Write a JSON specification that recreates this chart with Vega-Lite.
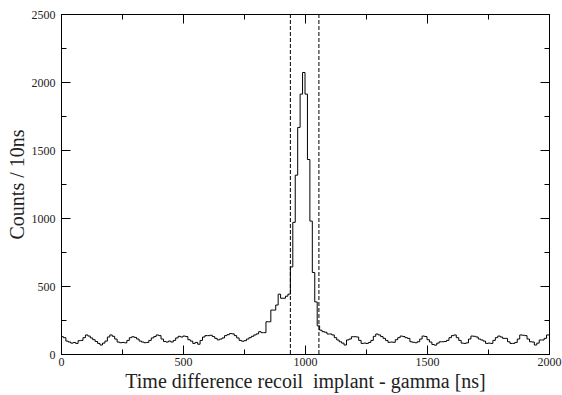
{
  "$schema": "https://vega.github.io/schema/vega-lite/v6.json",
  "autosize": "none",
  "width": 488,
  "height": 340,
  "padding": {"left": 61, "top": 14, "right": 13, "bottom": 41},
  "background": "white",
  "config": {
    "view": {"stroke": "black", "strokeWidth": 1},
    "axis": {"domainColor": "black", "tickColor": "black", "labelColor": "#222", "titleColor": "#222", "labelFont": "Liberation Serif", "titleFont": "Liberation Serif", "labelFontSize": 12, "titleFontSize": 20, "titleFontWeight": "normal", "grid": false}
  },
  "datasets": {
    "h": [
      {"t":0,"c":127},{"t":10,"c":120},{"t":20,"c":95},{"t":30,"c":88},{"t":40,"c":80},{"t":50,"c":85},{"t":60,"c":78},{"t":70,"c":98},{"t":80,"c":100},{"t":90,"c":120},
      {"t":100,"c":140},{"t":110,"c":132},{"t":120,"c":118},{"t":130,"c":105},{"t":140,"c":92},{"t":150,"c":78},{"t":160,"c":66},{"t":170,"c":80},{"t":180,"c":95},{"t":190,"c":125},
      {"t":200,"c":140},{"t":210,"c":130},{"t":220,"c":110},{"t":230,"c":88},{"t":240,"c":83},{"t":250,"c":85},{"t":260,"c":82},{"t":270,"c":100},{"t":280,"c":120},{"t":290,"c":127},
      {"t":300,"c":122},{"t":310,"c":110},{"t":320,"c":95},{"t":330,"c":88},{"t":340,"c":83},{"t":350,"c":85},{"t":360,"c":100},{"t":370,"c":118},{"t":380,"c":128},{"t":390,"c":140},
      {"t":400,"c":135},{"t":410,"c":110},{"t":420,"c":92},{"t":430,"c":88},{"t":440,"c":95},{"t":450,"c":88},{"t":460,"c":100},{"t":470,"c":118},{"t":480,"c":130},{"t":490,"c":125},
      {"t":500,"c":132},{"t":510,"c":128},{"t":520,"c":105},{"t":530,"c":95},{"t":540,"c":78},{"t":550,"c":85},{"t":560,"c":72},{"t":570,"c":100},{"t":580,"c":125},{"t":590,"c":135},
      {"t":600,"c":135},{"t":610,"c":138},{"t":620,"c":128},{"t":630,"c":115},{"t":640,"c":104},{"t":650,"c":110},{"t":660,"c":118},{"t":670,"c":135},{"t":680,"c":142},{"t":690,"c":150},
      {"t":700,"c":148},{"t":710,"c":135},{"t":720,"c":118},{"t":730,"c":100},{"t":740,"c":94},{"t":750,"c":98},{"t":760,"c":110},{"t":770,"c":120},{"t":780,"c":130},{"t":790,"c":140},
      {"t":800,"c":148},{"t":810,"c":164},{"t":820,"c":157},{"t":830,"c":157},{"t":840,"c":237},{"t":850,"c":237},{"t":860,"c":323},{"t":870,"c":323},{"t":880,"c":360},{"t":890,"c":440},
      {"t":900,"c":410},{"t":910,"c":410},{"t":920,"c":425},{"t":930,"c":440},{"t":940,"c":640},{"t":950,"c":968},{"t":960,"c":1315},{"t":970,"c":1666},{"t":980,"c":1911},{"t":990,"c":2070},
      {"t":1000,"c":1911},{"t":1010,"c":1430},{"t":1020,"c":977},{"t":1030,"c":599},{"t":1040,"c":383},{"t":1050,"c":207},{"t":1060,"c":175},{"t":1070,"c":164},{"t":1080,"c":160},{"t":1090,"c":147},
      {"t":1100,"c":147},{"t":1110,"c":140},{"t":1120,"c":120},{"t":1130,"c":103},{"t":1140,"c":90},{"t":1150,"c":80},{"t":1160,"c":66},{"t":1170,"c":103},{"t":1180,"c":110},{"t":1190,"c":127},
      {"t":1200,"c":127},{"t":1210,"c":125},{"t":1220,"c":100},{"t":1230,"c":78},{"t":1240,"c":80},{"t":1250,"c":78},{"t":1260,"c":85},{"t":1270,"c":100},{"t":1280,"c":130},{"t":1290,"c":147},
      {"t":1300,"c":140},{"t":1310,"c":128},{"t":1320,"c":115},{"t":1330,"c":100},{"t":1340,"c":86},{"t":1350,"c":88},{"t":1360,"c":86},{"t":1370,"c":105},{"t":1380,"c":120},{"t":1390,"c":132},
      {"t":1400,"c":128},{"t":1410,"c":120},{"t":1420,"c":115},{"t":1430,"c":90},{"t":1440,"c":86},{"t":1450,"c":83},{"t":1460,"c":90},{"t":1470,"c":110},{"t":1480,"c":132},{"t":1490,"c":128},
      {"t":1500,"c":105},{"t":1510,"c":88},{"t":1520,"c":70},{"t":1530,"c":65},{"t":1540,"c":80},{"t":1550,"c":90},{"t":1560,"c":90},{"t":1570,"c":92},{"t":1580,"c":100},{"t":1590,"c":120},
      {"t":1600,"c":135},{"t":1610,"c":140},{"t":1620,"c":120},{"t":1630,"c":100},{"t":1640,"c":80},{"t":1650,"c":78},{"t":1660,"c":82},{"t":1670,"c":110},{"t":1680,"c":132},{"t":1690,"c":130},
      {"t":1700,"c":125},{"t":1710,"c":110},{"t":1720,"c":103},{"t":1730,"c":95},{"t":1740,"c":78},{"t":1750,"c":80},{"t":1760,"c":78},{"t":1770,"c":100},{"t":1780,"c":120},{"t":1790,"c":132},
      {"t":1800,"c":125},{"t":1810,"c":115},{"t":1820,"c":115},{"t":1830,"c":90},{"t":1840,"c":78},{"t":1850,"c":78},{"t":1860,"c":85},{"t":1870,"c":110},{"t":1880,"c":140},{"t":1890,"c":138},
      {"t":1900,"c":135},{"t":1910,"c":110},{"t":1920,"c":90},{"t":1930,"c":88},{"t":1940,"c":66},{"t":1950,"c":80},{"t":1960,"c":103},{"t":1970,"c":103},{"t":1980,"c":115},{"t":1990,"c":140},
      {"t":2000,"c":140}
    ],
    "cut": [{"t":940},{"t":1057}]
  },
  "layer": [
    {
      "data": {"name": "h"},
      "mark": {"type": "line", "interpolate": "step-after", "color": "black", "strokeWidth": 1},
      "encoding": {
        "x": {"field": "t", "type": "quantitative", "scale": {"domain": [0, 2000], "nice": false},
          "axis": {"orient": "bottom", "title": "Time difference recoil\u00a0 implant - gamma [ns]", "values": [0,250,500,750,1000,1250,1500,1750,2000], "format": "d", "labelExpr": "datum.value % 500 === 0 ? datum.label : ''", "tickSize": {"condition": {"test": "datum.value % 500 === 0", "value": -9}, "value": -5}, "labelPadding": 11, "labelFlush": false, "titlePadding": 4}},
        "y": {"field": "c", "type": "quantitative", "scale": {"domain": [0, 2500], "nice": false},
          "axis": {"orient": "left", "title": "Counts / 10ns", "values": [0,250,500,750,1000,1250,1500,1750,2000,2250,2500], "format": "d", "labelExpr": "datum.value % 500 === 0 ? datum.label : ''", "tickSize": {"condition": {"test": "datum.value % 500 === 0", "value": -9}, "value": -5}, "labelPadding": 15, "labelFlush": false, "titlePadding": 4}}
      }
    },
    {
      "data": {"name": "h"},
      "mark": {"type": "line", "interpolate": "step-after", "opacity": 0},
      "encoding": {
        "x": {"field": "t", "type": "quantitative", "scale": {"domain": [0, 2000], "nice": false},
          "axis": {"orient": "top", "title": null, "labels": false, "values": [0,250,500,750,1000,1250,1500,1750,2000], "tickSize": {"condition": {"test": "datum.value % 500 === 0", "value": -9}, "value": -5}}},
        "y": {"field": "c", "type": "quantitative", "scale": {"domain": [0, 2500], "nice": false},
          "axis": {"orient": "right", "title": null, "labels": false, "values": [0,250,500,750,1000,1250,1500,1750,2000,2250,2500], "tickSize": {"condition": {"test": "datum.value % 500 === 0", "value": -9}, "value": -5}}}
      }
    },
    {
      "data": {"name": "cut"},
      "mark": {"type": "rule", "color": "black", "strokeWidth": 1, "strokeDash": [4, 2]},
      "encoding": {
        "x": {"field": "t", "type": "quantitative", "axis": null}
      }
    }
  ],
  "resolve": {"axis": {"x": "independent", "y": "independent"}}
}
